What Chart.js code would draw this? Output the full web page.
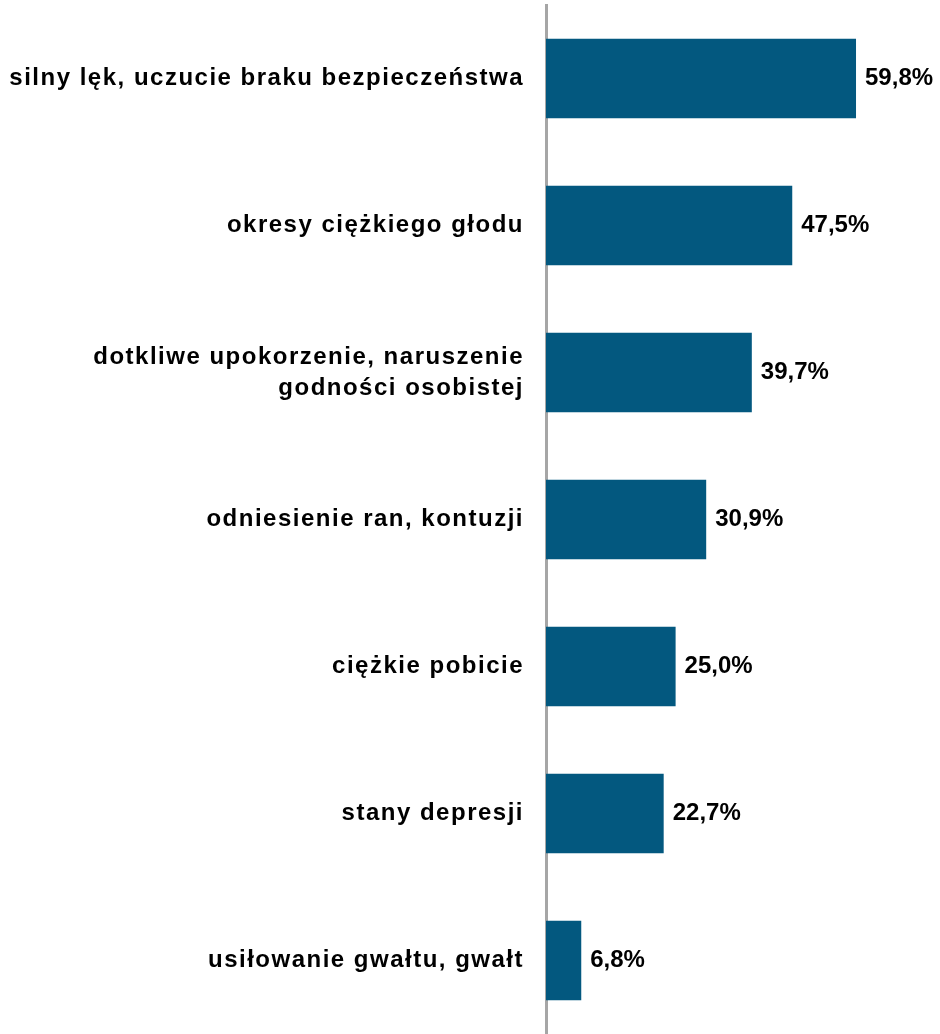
<!DOCTYPE html>
<html lang="pl">
<head>
    <meta charset="UTF-8">
    <title>Doświadczenia</title>
    <script src="https://cdn.jsdelivr.net/npm/chart.js"></script>
    <style>
        body { margin: 0; background: #fff; }
        #wrap { width: 940px; height: 1034px; position: relative; }
    </style>
</head>
<body>
    <div id="wrap"><canvas id="barChart"></canvas></div>
    <script>
        // dane wykresu
        const kategorie = [
            "silny lęk, uczucie braku bezpieczeństwa",
            "okresy ciężkiego głodu",
            ["dotkliwe upokorzenie, naruszenie", "godności osobistej"],
            "odniesienie ran, kontuzji",
            "ciężkie pobicie",
            "stany depresji",
            "usiłowanie gwałtu, gwałt"
        ];
        const wartosci = [59.8, 47.5, 39.7, 30.9, 25.0, 22.7, 6.8];

        const fmt = v => v.toFixed(1).replace(".", ",") + "%";

        // etykiety wartości przy słupkach
        const etykiety = {
            id: "etykiety",
            afterDatasetsDraw(chart) {
                const ctx = chart.ctx;
                const meta = chart.getDatasetMeta(0);
                ctx.save();
                ctx.font = "bold 24px 'Liberation Sans', Arial, sans-serif";
                ctx.fillStyle = "#000";
                ctx.textAlign = "left";
                ctx.textBaseline = "middle";
                meta.data.forEach((bar, i) => {
                    ctx.fillText(fmt(wartosci[i]), bar.x + 9, bar.y);
                });
                ctx.restore();
            }
        };

        const odstep = {
            id: "odstep",
            beforeDraw(chart) { chart.ctx.letterSpacing = "1.5px"; },
            beforeDatasetsDraw(chart) { chart.ctx.letterSpacing = "0px"; }
        };

        const ctx = document.getElementById("barChart").getContext("2d");
        new Chart(ctx, {
            type: "bar",
            data: {
                labels: kategorie,
                datasets: [{
                    data: wartosci,
                    backgroundColor: "#03587f",
                    categoryPercentage: 1,
                    barPercentage: 0.54
                }]
            },
            options: {
                indexAxis: "y",
                responsive: true,
                maintainAspectRatio: false,
                animation: false,
                layout: { padding: { top: 5, bottom: 0, left: 0, right: 0 } },
                plugins: { legend: { display: false }, tooltip: { enabled: false } },
                scales: {
                    x: { display: false, min: 0, max: 76 },
                    y: {
                        grid: { display: false, drawTicks: false },
                        border: { display: true, color: "#a6a6a6", width: 3 },
                        afterFit(scale) {
                            scale.width = 546;
                            scale.paddingTop = 0;
                            scale.paddingBottom = 0;
                        },
                        ticks: {
                            padding: 22,
                            color: "#000",
                            font: { family: "'Liberation Sans', Arial, sans-serif", size: 24, weight: "bold", lineHeight: 1.3 }
                        }
                    }
                }
            },
            plugins: [odstep, etykiety]
        });
    </script>
</body>
</html>
